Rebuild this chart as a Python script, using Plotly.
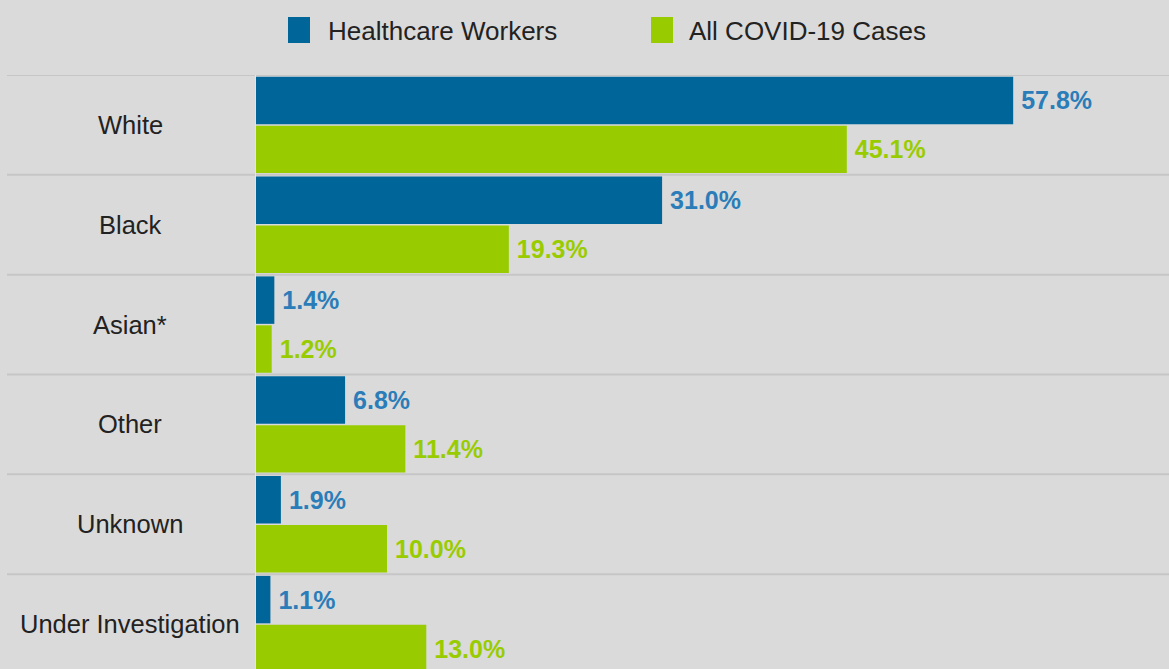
import plotly.graph_objects as go

categories = ["White", "Black", "Asian*", "Other", "Unknown", "Under Investigation"]
healthcare_workers = [57.8, 31.0, 1.4, 6.8, 1.9, 1.1]
all_cases = [45.1, 19.3, 1.2, 11.4, 10.0, 13.0]
series_names = ["Healthcare Workers", "All COVID-19 Cases"]

BLUE = "#006699"
GREEN = "#99cc00"
BLUE_TXT = "#2a7db8"
BG = "#dadada"
GRID = "#c6c6c6"
FONT = "Liberation Sans, Arial, sans-serif"

W, H = 1169, 669
L, T = 256, 75
PW, PH = W - L, H - T

def px2x(px):
    return (px - L) / PW

def py2y(py):
    return (H - py) / PH

fig = go.Figure()
fig.add_trace(go.Bar(
    y=categories, x=healthcare_workers, orientation="h", name=series_names[0],
    marker=dict(color=BLUE, line=dict(width=0)),
    texttemplate="\u2009%{x:.1f}%", textposition="outside", cliponaxis=False,
    textfont=dict(family=FONT, size=25, color=BLUE_TXT, weight="bold"),
    showlegend=False, hoverinfo="x+y",
))
fig.add_trace(go.Bar(
    y=categories, x=all_cases, orientation="h", name=series_names[1],
    marker=dict(color=GREEN, line=dict(width=0)),
    texttemplate="\u2009%{x:.1f}%", textposition="outside", cliponaxis=False,
    textfont=dict(family=FONT, size=25, color=GREEN, weight="bold"),
    showlegend=False, hoverinfo="x+y",
))

shapes = []
# row separators
for i in range(len(categories)):
    shapes.append(dict(type="line", xref="paper", yref="y",
                       x0=px2x(7), x1=1, y0=i - 0.5, y1=i - 0.5,
                       line=dict(color=GRID, width=2), layer="below"))
# legend swatches
swatch_x = [288, 651]
text_x = [326, 687]
colors = [BLUE, GREEN]
annotations = []
for sx, tx, c, n in zip(swatch_x, text_x, colors, series_names):
    shapes.append(dict(type="rect", xref="paper", yref="paper",
                       x0=px2x(sx), x1=px2x(sx + 22), y0=py2y(43), y1=py2y(17),
                       fillcolor=c, line=dict(width=0)))
    annotations.append(dict(xref="paper", yref="paper", x=px2x(tx), y=py2y(31),
                            text=n, showarrow=False, xanchor="left", yanchor="middle",
                            font=dict(family=FONT, size=26, color="#222222")))
# category labels centered in left column
for c in categories:
    annotations.append(dict(xref="paper", yref="y", x=px2x(130), y=c, text=c,
                            showarrow=False, xanchor="center", yanchor="middle",
                            font=dict(family=FONT, size=25.5, color="#222222")))

fig.update_layout(
    width=W, height=H,
    margin=dict(l=L, r=0, t=T, b=0, pad=0),
    paper_bgcolor=BG, plot_bgcolor=BG,
    barmode="group", bargap=0.02, bargroupgap=0.03,
    xaxis=dict(range=[0, PW / 13.1], showgrid=False, zeroline=False,
               showticklabels=False, ticks="", showline=False, fixedrange=True),
    yaxis=dict(categoryorder="array", categoryarray=categories,
               range=[5.45, -0.5], showgrid=False, zeroline=False,
               showticklabels=False, ticks="", showline=True,
               linecolor="#e4e4e4", linewidth=1, fixedrange=True),
    shapes=shapes, annotations=annotations,
    font=dict(family=FONT),
    showlegend=False,
)

fig.write_html(
    "out.html",
    config={"displayModeBar": False},
    post_script="document.body.style.margin='0';document.body.style.padding='0';document.body.style.overflow='hidden';",
)
